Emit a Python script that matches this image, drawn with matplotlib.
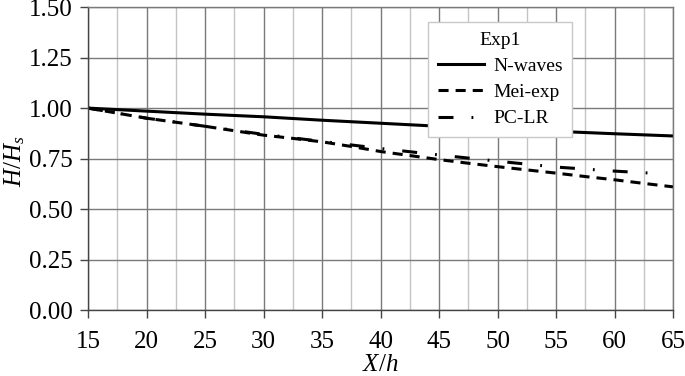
import matplotlib as mpl
mpl.use('Agg')
import matplotlib.pyplot as plt
from matplotlib.ticker import MultipleLocator

# data
x_n = [15, 20, 25, 30, 35, 40, 45, 50, 55, 60, 65]
nwaves = [1.0, 0.985, 0.970, 0.957, 0.940, 0.925, 0.910, 0.897, 0.885, 0.873, 0.862]

x_mei = [15, 17.5, 20, 22.5, 25, 27.5, 30, 32.5, 35, 37.5, 40, 42.5, 45, 47.5, 50,
         52.5, 55, 57.5, 60, 62.5, 65]
mei = [1.0, 0.975, 0.950, 0.930, 0.910, 0.888, 0.866, 0.850, 0.833, 0.810, 0.785,
       0.765, 0.745, 0.727, 0.710, 0.694, 0.678, 0.661, 0.645, 0.627, 0.610]

x_pc = [15, 20, 25, 30, 35, 40, 45, 50, 55, 60, 64]
pclr = [1.0, 0.950, 0.910, 0.870, 0.835, 0.800, 0.768, 0.737, 0.708, 0.688, 0.675]

plt.rcParams['font.family'] = 'Liberation Serif'
plt.rcParams['mathtext.fontset'] = 'custom'
plt.rcParams['mathtext.rm'] = 'Liberation Serif'
plt.rcParams['mathtext.it'] = 'Liberation Serif:italic'
plt.rcParams['font.size'] = 18

fig = plt.figure(figsize=(6.85, 3.76), dpi=100)
ax = fig.add_axes([0.1285, 0.1755, 0.854, 0.8055])

ax.plot(x_n, nwaves, color='black', lw=2.2, label='N-waves')
ax.plot(x_mei, mei, color='black', lw=2.2, dashes=(3.3, 2.3), label='Mei-exp')
ax.plot(x_pc, pclr, color='black', lw=2.2, dashes=(4.9, 5.9, 0.6, 5.9), label='PC-LR')

ax.set_xlim(15, 65)
ax.set_ylim(0, 1.5)
ax.xaxis.set_major_locator(MultipleLocator(5))
ax.xaxis.set_minor_locator(MultipleLocator(2.5))
ax.yaxis.set_major_locator(MultipleLocator(0.25))
ax.yaxis.set_major_formatter(mpl.ticker.FormatStrFormatter('%.2f'))

ax.grid(which='major', color='#7a7a7a', lw=1.0)
ax.grid(which='minor', axis='x', color='#c4c4c4', lw=1.0)
ax.set_axisbelow(True)
for s in ax.spines.values():
    s.set_color('#7a7a7a')
    s.set_linewidth(1.0)
ax.spines['left'].set_color('#444444')
ax.spines['bottom'].set_color('#444444')

ax.tick_params(which='major', direction='out', length=6, width=1, color='#444444')
ax.tick_params(which='minor', length=0)
ax.tick_params(axis='x', pad=9)
ax.tick_params(axis='y', pad=5)

ax.set_xlabel(r'$X/h$')
ax.set_ylabel(r'$H/H_s$')
ax.xaxis.label.set_va('center')
ax.xaxis.set_label_coords(0.5, -0.18)
ax.yaxis.label.set_va('center')
ax.yaxis.set_label_coords(-0.126, 0.49)

leg = ax.legend(title='Exp1', loc='upper left', bbox_to_anchor=(428 / 685, 1 - 22 / 376),
                bbox_transform=fig.transFigure, borderaxespad=0, fancybox=False,
                framealpha=1, edgecolor='#c8c8c8', handlelength=2.4, handletextpad=0.45,
                labelspacing=0.45, borderpad=0.5, fontsize=14, title_fontsize=14)
leg.get_frame().set_linewidth(1.0)
leg._legend_box.sep = 6

fig.savefig('out.png', dpi=100)
